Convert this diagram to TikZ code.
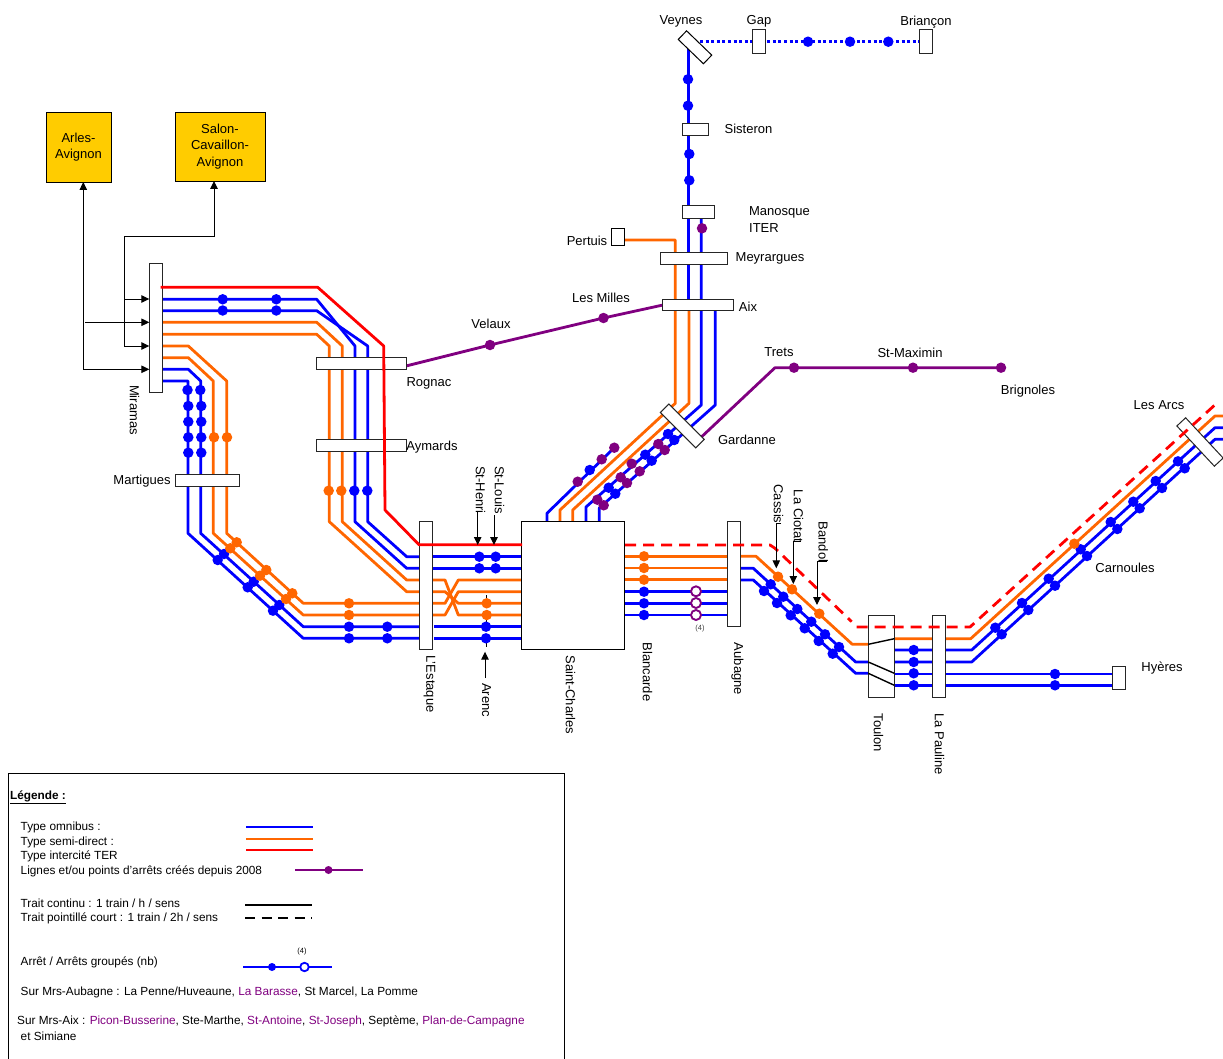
\documentclass[tikz,border=0pt]{standalone}
\usepackage{fontspec}
\setmainfont{Liberation Sans}
\usetikzlibrary{arrows.meta,positioning}
\definecolor{omni}{HTML}{0000FF}
\definecolor{semi}{HTML}{FF6600}
\definecolor{inter}{HTML}{FF0000}
\definecolor{neuf}{HTML}{800080}
\definecolor{jaune}{HTML}{FFCC00}
\tikzset{
  omnitrack/.style={draw=omni,line width=2.8pt,line join=round},
  semitrack/.style={draw=semi,line width=2.8pt,line join=round},
  intertrack/.style={draw=inter,line width=2.8pt,line join=round},
  neuftrack/.style={draw=neuf,line width=2.8pt,line join=round},
  tiret/.style={dash pattern=on 11pt off 7pt},
  pointille/.style={dash pattern=on 3pt off 2.6pt},
  gare/.style={draw=black!85,fill=white,line width=1pt,inner sep=0pt,outer sep=0pt},
  bifur/.style={gare,draw=black},
  noeud/.style={draw=black,fill=jaune,line width=0.8pt,align=center,inner sep=0pt,outer sep=0pt,
                font=\fontsize{13}{16.5}\selectfont},
  lbl/.style={inner sep=0pt,align=left,yshift=-1.3pt,font=\fontsize{13}{17}\selectfont},
  lbv/.style={lbl,yshift=1.3pt,xshift=1.5pt,rotate=-90},
  legtext/.style={inner sep=0pt,anchor=west,yshift=-1.5pt,font=\fontsize{11.8}{13}\selectfont},
  tiny/.style={inner sep=0pt,text=black!75,font=\fontsize{7.5}{9}\selectfont},
  stopblue/.style={circle,fill=omni,inner sep=0pt,minimum size=10.5pt},
  stoporange/.style={circle,fill=semi,inner sep=0pt,minimum size=10.5pt},
  stopviolet/.style={circle,fill=neuf,inner sep=0pt,minimum size=10.5pt},
  stopopen/.style={circle,draw=neuf,fill=white,line width=1.9pt,inner sep=0pt,minimum size=10pt},
  flowarr/.style={-{Triangle[length=8pt,width=7.5pt]},line width=1pt,color=black},
  softarr/.style={{Triangle[length=8pt,width=7.5pt]}-{Triangle[length=8pt,width=7.5pt]},line width=1pt,color=black}
}
\begin{document}
\begin{tikzpicture}[x=1pt,y=-1pt]
  \useasboundingbox (0,0) rectangle (1223,1059);

  % voies
  \draw[omnitrack] (162,299.3)--(316.7,299.3)--(355,346)--(355,521.7)--(406.7,568.3)--(419,568.3);
  \draw[omnitrack] (162,310.7)--(316.7,310.7)--(367.7,346)--(367.7,521.7)--(406.7,556.7)--(419,556.7);
  \draw[semitrack] (162,322.3)--(316.7,322.3)--(342.3,346)--(342.3,521.7)--(406.7,580)--(419,580);
  \draw[semitrack] (162,334.3)--(316.7,334.3)--(329.3,346)--(329.3,521.7)--(406.7,591.7)--(419,591.7);
  \draw[semitrack] (162,346)--(188.3,346)--(226.7,381)--(226.7,533.3)--(303.3,603.3)--(419,603.3);
  \draw[semitrack] (162,357.7)--(188.3,357.7)--(213.3,381)--(213.3,533.3)--(303.3,615)--(419,615);
  \draw[omnitrack] (162,369.3)--(188.3,369.3)--(200.7,381)--(200.7,533.3)--(303.3,626.7)--(419,626.7);
  \draw[omnitrack] (162,381)--(188,381)--(188,533.3)--(303.3,638.3)--(419,638.3);

  \draw[omnitrack] (432,556.7)--(522,556.7);
  \draw[omnitrack] (432,568.3)--(522,568.3);
  \draw[semitrack] (432,580)--(445,580)--(458.3,615)--(522,615);
  \draw[semitrack] (432,591.7)--(445,591.7)--(458.3,603.3)--(522,603.3);
  \draw[semitrack] (432,603.3)--(445,603.3)--(458.3,580)--(522,580);
  \draw[semitrack] (432,615)--(445,615)--(458.3,591.7)--(522,591.7);
  \draw[omnitrack] (434,626.7)--(522,626.7);
  \draw[omnitrack] (434,638.3)--(522,638.3);
  \draw[black,line width=0.7pt,dash pattern=on 4pt off 4pt] (486.5,595)--(486.5,648);

  \draw[omnitrack] (547,521.7)--(547,513.3)--(614.3,447.7);
  \draw[semitrack] (624,240)--(675.3,240)--(675.3,403.3)--(560,510)--(560,521.7);
  \draw[semitrack] (689,305)--(689,403.3)--(572.7,510)--(572.7,521.7);
  \draw[omnitrack] (701.3,215)--(701.3,405)--(586,507)--(586,521.7);
  \draw[omnitrack] (715.3,305)--(715.3,405)--(599.3,508)--(599.3,521.7);
  \draw[omnitrack] (688.7,48)--(688.7,305);
  \draw[omnitrack,pointille] (700,41.7)--(920,41.7);

  \draw[neuftrack] (406,366)--(490,345)--(603.5,318)--(663,305);
  \draw[neuftrack] (701.7,436.7)--(775,367.7)--(1001,367.7);

  \draw[semitrack] (625,556.3)--(727,556.3);
  \draw[semitrack] (625,568)--(727,568);
  \draw[semitrack] (625,579.7)--(727,579.7);
  \draw[omnitrack] (625,591.7)--(727,591.7);
  \draw[omnitrack] (625,603.3)--(727,603.3);
  \draw[omnitrack] (625,615)--(727,615);
  \draw[semitrack] (740,556.3)--(756,556.3)--(852.3,644.3)--(868.3,644.3);
  \draw[omnitrack] (740,568.3)--(753.3,568.3)--(855.7,662)--(868.3,662);
  \draw[omnitrack] (740,580)--(753.3,580)--(855.7,673.3)--(868.3,673.3);
  \draw[semitrack] (894,638.7)--(970.7,638.7)--(1215,416)--(1223,416);
  \draw[omnitrack] (894,650)--(971.7,650)--(1215,427.7)--(1223,427.7);
  \draw[omnitrack] (894,662)--(971.7,662)--(1215,439.3)--(1223,439.3);
  \draw[omnitrack] (894,674)--(1113,674);
  \draw[omnitrack] (894,685.3)--(1113,685.3);

  % gares
  \node[gare,minimum width=13pt,minimum height=128.7pt] (miramas) at (155.8,328.3) {};
  \node[gare,minimum width=64pt,minimum height=11.6pt] (martigues) at (207.3,480.5) {};
  \node[gare,minimum width=90.4pt,minimum height=12pt] (rognac) at (361.5,363.3) {};
  \node[gare,minimum width=90.4pt,minimum height=12pt] (aymards) at (361.5,445.3) {};
  \node[gare,minimum width=12.7pt,minimum height=128.3pt] (estaque) at (425.7,585.8) {};
  \node[bifur,minimum width=103pt,minimum height=128.3pt] (charles) at (573.3,585.8) {};
  \node[gare,minimum width=13pt,minimum height=105pt] (aubagne) at (733.5,574.2) {};
  \node[gare,minimum width=26pt,minimum height=82pt] (toulon) at (881.3,656.3) {};
  \node[gare,minimum width=12.6pt,minimum height=82pt] (pauline) at (939,656.3) {};
  \node[gare,minimum width=12.6pt,minimum height=23.3pt] (hyeres) at (1119,678.3) {};
  \node[gare,minimum width=50pt,minimum height=12pt,rotate=-45] (gardanne) at (682.3,426) {};
  \node[gare,minimum width=55pt,minimum height=12pt,rotate=-47] (arcs) at (1200,442) {};
  \node[bifur,minimum width=35pt,minimum height=12pt,rotate=-44] (veynes) at (695,47.3) {};
  \node[gare,minimum width=13pt,minimum height=23.7pt] (gap) at (759.2,41.2) {};
  \node[gare,minimum width=13.4pt,minimum height=23.7pt] (briancon) at (926,41.2) {};
  \node[gare,minimum width=25.7pt,minimum height=12pt] (sisteron) at (695.2,129.3) {};
  \node[gare,minimum width=32.4pt,minimum height=12.6pt] (manosque) at (698.5,212) {};
  \node[gare,minimum width=66.6pt,minimum height=11.7pt] (meyrargues) at (694,258.2) {};
  \node[bifur,minimum width=13pt,minimum height=17pt] (pertuis) at (617.8,237.2) {};
  \node[gare,minimum width=70.6pt,minimum height=11.7pt] (aix) at (698,304.9) {};

  \draw[black,line width=1.4pt] (868.3,644.3)--(894.3,638.7);
  \draw[black,line width=1.4pt] (868.3,662)--(894.3,673.3);
  \draw[black,line width=1.4pt] (868.3,673.3)--(894.3,685.3);

  % intercites
  \draw[intertrack] (160.7,287.3)--(317.7,287.3)--(383.7,346)--(385,510)--(419,544.7)--(522,544.7);
  \draw[intertrack,tiret] (625,545)--(770,545)--(775,548.3)--(851.7,621.7);
  \draw[intertrack,tiret] (856.7,627)--(970,627)--(1216.7,403.3);

  % arrets
  \foreach \x/\y [count=\n] in {222.7/299.3,276.3/299.3,222.7/310.5,276.3/310.5,
    187.5/390,188.3/406,188.3/421.7,188.3/437.3,188.3/452.7,200.3/390,201.3/406,201.3/421.7,201.3/437.3,201.3/452.7,
    354.3/490.7,367.3/490.7,224/554,253.7/581.7,279.3/605,217.7/560,247.7/587.3,273/610.7,
    349/626.7,387.3/626.7,349/638.3,387.3/638.3,486/626.7,486/638.3,
    479.3/556.7,495.7/556.7,479.3/568.3,495.7/568.3,
    589.7/470,608.7/487.7,645.3/454.7,668/434,615.3/493.7,651.7/460.7,674.3/440,
    644/591.7,644/603.3,644/615,
    770.7/584.3,783.3/596.7,797.3/609,811.3/621.7,825/634.3,839/647,
    764/591,777/603,790.7/615.3,804.7/628.3,818.7/641,832.7/653.7,
    913.7/650,913.7/662,913.7/673.3,913.7/685.3,1055/674,1055/685.3,
    995.3/627.7,1022/603,1048.7/578.7,1080.7/549.3,1110.7/522,1133.3/501.7,1155.7/481,1178/461.3,
    1001.7/634.3,1028.3/610,1055/585.7,1087/556,1117.3/529,1139.7/508.3,1162/488,1184.7/468.3,
    688/79.3,688/105.7,689.3/154,689.3/180.3,808/41.7,850/41.7,888.3/41.7}
    \node[stopblue] (sb\n) at (\x,\y) {};
  \foreach \x/\y [count=\n] in {214/437.3,227/437.3,328.7/490.7,341.3/490.7,
    236.7/542.3,266.3/570,292.3/593.3,230.3/548.3,260/575.7,286/599,
    349/603.3,349/615,486.7/603.3,486.7/615,
    644/556.3,644/568,644/579.7,778/576.7,792/589.3,819.3/613.7,1074.3/543.7}
    \node[stoporange] (so\n) at (\x,\y) {};
  \foreach \x/\y [count=\n] in {577.7/481.7,601.7/459.3,614.3/447.7,597.3/499.7,620.7/477.3,631.7/463.7,658.3/444,
    603.7/505.3,627/483,639.7/471.3,664.7/450,702/228.3,490/345,603.5/318,794/367.7,913/367.7,1001/367.7}
    \node[stopviolet] (sv\n) at (\x,\y) {};
  \foreach \y [count=\n] in {591.3,603,615}
    \node[stopopen] (sg\n) at (696,\y) {};
  \node[tiny] (nb) at (700,628.7) {(4)};

  % noeuds et renvois
  \node[noeud,minimum width=65pt,minimum height=70pt] (arles) at (78.5,147) {Arles-\\Avignon};
  \node[noeud,minimum width=90pt,minimum height=69pt] (salon) at (220,146.5) {Salon-\\Cavaillon-\\Avignon};
  \coordinate (miraA) at (149.3,369.3);
  \coordinate (miraB) at (149.3,346);
  \coordinate (miraC) at (149.3,322.3);
  \coordinate (miraD) at (149.3,299);
  \coordinate (arlesB) at (83.3,182);
  \coordinate (salonB) at (214,181);
  \coordinate (coudeS) at (124,237);
  \coordinate (departC) at (85,322.3);
  \coordinate (brancheD) at (124,299);
  \draw[softarr] (arlesB)--(83.3,369.3)--(miraA);
  \draw[softarr] (salonB)--(214,237)--(coudeS)--(124,346)--(miraB);
  \draw[flowarr] (departC)--(miraC);
  \draw[flowarr] (brancheD)--(miraD);

  \coordinate (henriH) at (477.7,512);
  \coordinate (henriB) at (477.7,545);
  \coordinate (louisH) at (494,515);
  \coordinate (louisB) at (494,545);
  \coordinate (arencH) at (485,651.7);
  \coordinate (arencB) at (485,678);
  \draw[flowarr] (henriH)--(henriB);
  \draw[flowarr] (louisH)--(louisB);
  \draw[flowarr] (arencB)--(arencH);
  \draw[flowarr] (781,523)--(776.3,523)--(776.3,568.3);
  \draw[flowarr] (801,541.7)--(793.3,541.7)--(793.3,584);
  \draw[flowarr] (827,561.7)--(817,561.7)--(817,605);

  % noms
  \node[lbl] (tVeynes) at (681,20) {Veynes};
  \node[lbl] (tGap) at (759,20) {Gap};
  \node[lbl] (tBriancon) at (926,21) {Briançon};
  \node[lbl] (tSisteron) at (748.5,128) {Sisteron};
  \node[lbl] (tManosque) at (779.5,218.5) {Manosque\\ITER};
  \node[lbl] (tMeyrargues) at (770,257.5) {Meyrargues};
  \node[lbl] (tPertuis) at (587,240) {Pertuis};
  \node[lbl] (tAix) at (748,305) {Aix};
  \node[lbl] (tMilles) at (601,297) {Les Milles};
  \node[lbl] (tVelaux) at (491,323) {Velaux};
  \node[lbl] (tTrets) at (779,351) {Trets};
  \node[lbl] (tMaximin) at (910,352) {St-Maximin};
  \node[lbl] (tBrignoles) at (1028,390) {Brignoles};
  \node[lbl] (tGardanne) at (747,439) {Gardanne};
  \node[lbl] (tRognac) at (429,382) {Rognac};
  \node[lbl] (tAymards) at (432,446) {Aymards};
  \node[lbl] (tMartigues) at (142,480) {Martigues};
  \node[lbl] (tCarnoules) at (1125,567) {Carnoules};
  \node[lbl] (tArcs) at (1159,404) {Les Arcs};
  \node[lbl] (tHyeres) at (1162,667) {Hyères};
  \node[lbv] (tMiramas) at (133,410) {Miramas};
  \node[lbv] (tEstaque) at (428,684) {L'Estaque};
  \node[lbv] (tArenc) at (485,700) {Arenc};
  \node[lbv] (tCharles) at (569,695) {Saint-Charles};
  \node[lbv] (tBlancarde) at (646,672) {Blancarde};
  \node[lbv] (tAubagne) at (736,669) {Aubagne};
  \node[lbv] (tToulon) at (877,733) {Toulon};
  \node[lbv] (tPauline) at (938,744) {La Pauline};
  \node[lbv] (tHenri) at (479,490) {St-Henri};
  \node[lbv] (tLouis) at (498,490) {St-Louis};
  \node[lbv] (tCassis) at (777,504) {Cassis};
  \node[lbv] (tCiotat) at (797,516) {La Ciotat};
  \node[lbv] (tBandol) at (821.7,542) {Bandol};

  % legende
  \draw[black,line width=1pt] (8,1059)--(8,773)--(564.5,773)--(564.5,1059);
  \node[legtext] (lTitre) at (10,796) {\textbf{\underline{Légende :}}};
  \node[legtext] (lOmni) at (20.5,826) {Type omnibus :};
  \node[legtext] (lSemi) at (20.5,841) {Type semi-direct :};
  \node[legtext] (lInter) at (20.5,855) {Type intercité TER};
  \node[legtext] (lNeuf) at (20.5,870) {Lignes et/ou points d'arrêts créés depuis 2008};
  \node[legtext] (lContinu) at (20.5,902) {Trait continu : 1 train / h / sens};
  \node[legtext] (lCourt) at (20.5,917) {Trait pointillé court : 1 train / 2h / sens};
  \node[legtext] (lArret) at (20.5,961) {Arrêt / Arrêts groupés (nb)};
  \node[legtext] (lAubagne) at (20.5,991) {Sur Mrs-Aubagne : La Penne/Huveaune, \textcolor{neuf}{La Barasse}, St Marcel, La Pomme};
  \node[legtext] (lAix) at (17,1020) {Sur Mrs-Aix : \textcolor{neuf}{Picon-Busserine}, Ste-Marthe, \textcolor{neuf}{St-Antoine}, \textcolor{neuf}{St-Joseph}, Septème, \textcolor{neuf}{Plan-de-Campagne}};
  \node[legtext] (lSimiane) at (20.5,1035) {et Simiane};
  \draw[draw=omni,line width=2pt] (246,827)--(312.5,827);
  \draw[draw=semi,line width=2pt] (246,839)--(312.5,839);
  \draw[draw=inter,line width=2pt] (246,849.5)--(312.5,849.5);
  \draw[draw=neuf,line width=2pt] (295,870)--(362.5,870);
  \node[stopviolet,minimum size=8pt] (lv) at (328.5,870) {};
  \draw[black,line width=2pt] (245,905)--(312,905);
  \draw[black,line width=2pt,dash pattern=on 10pt off 6.5pt] (245,918)--(312,918);
  \draw[draw=omni,line width=2pt] (243,967)--(332,967);
  \node[stopblue,minimum size=8pt] (lb) at (272,967) {};
  \node[circle,draw=omni,fill=white,line width=1.8pt,inner sep=0pt,minimum size=8.5pt] (lo) at (304.5,967) {};
  \node[tiny,text=black] (ln) at (302,952) {(4)};
\end{tikzpicture}
\end{document}
